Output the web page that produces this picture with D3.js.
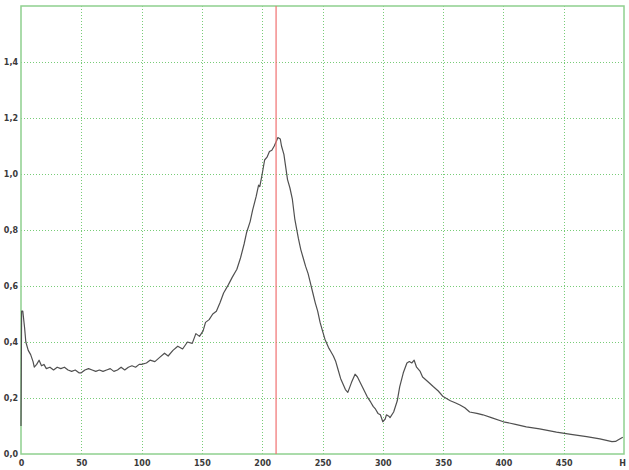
<!DOCTYPE html>
<html>
<head>
<meta charset="utf-8">
<script src="https://cdn.jsdelivr.net/npm/d3@7/dist/d3.min.js"></script>
<style>
  html, body { margin: 0; padding: 0; background: #fff; }
  svg { display: block; }
  .tick text { font-family: "DejaVu Sans", sans-serif; font-size: 8px; font-weight: bold; fill: #3a3a3a; }
</style>
</head>
<body>
<svg id="chart" width="629" height="470"></svg>
<script>
// Spectrum samples: frequency (x) and amplitude (y)
const freq = [0, 0.5, 1.5, 3, 4, 6, 8, 10, 11, 13, 15, 17, 19, 21, 24, 27, 30, 33, 36, 39, 42, 45, 48, 50,
  53, 56, 59, 62, 65, 68, 71, 74, 77, 80, 83, 86, 89, 92, 95, 98, 100, 104, 107, 111, 115, 119, 122, 126,
  130, 134, 138, 142, 145, 148, 151, 153, 156, 159, 162, 165, 168, 172, 175, 179, 182, 185, 187, 190, 192,
  195, 197, 198, 200, 202, 204, 206, 208, 210, 212, 213, 215, 216, 218, 219, 221, 223, 225, 227, 230, 232,
  234, 236, 238, 240, 242, 244, 246, 248, 250, 252, 255, 257, 259, 261, 263, 265, 267, 269, 271, 274, 277,
  279, 283, 287, 290, 292, 294, 296, 298, 300, 302, 303, 305, 306, 309, 312, 314, 317, 320, 322, 324, 326,
  328, 331, 333, 337, 342, 346, 350, 356, 360, 364, 368, 372, 378, 383, 390, 400, 410, 419, 430, 444, 456,
  469, 480, 490, 493, 495, 499];
const amp = [0.10, 0.51, 0.51, 0.45, 0.40, 0.37, 0.355, 0.33, 0.31, 0.32, 0.335, 0.315, 0.32, 0.305, 0.31,
  0.30, 0.31, 0.305, 0.31, 0.30, 0.295, 0.30, 0.29, 0.29, 0.30, 0.305, 0.30, 0.295, 0.30, 0.295, 0.30, 0.305,
  0.295, 0.30, 0.31, 0.30, 0.31, 0.315, 0.31, 0.32, 0.32, 0.325, 0.335, 0.33, 0.345, 0.36, 0.35, 0.37,
  0.385, 0.375, 0.40, 0.395, 0.43, 0.42, 0.44, 0.47, 0.48, 0.50, 0.51, 0.54, 0.575, 0.605, 0.63, 0.66, 0.70,
  0.75, 0.79, 0.83, 0.87, 0.92, 0.96, 0.955, 1.00, 1.05, 1.06, 1.08, 1.085, 1.10, 1.12, 1.13, 1.125, 1.10,
  1.07, 1.04, 0.98, 0.95, 0.91, 0.84, 0.77, 0.73, 0.70, 0.67, 0.645, 0.61, 0.575, 0.54, 0.51, 0.47, 0.44,
  0.41, 0.38, 0.365, 0.35, 0.33, 0.30, 0.27, 0.25, 0.23, 0.22, 0.255, 0.285, 0.275, 0.24, 0.205, 0.185,
  0.17, 0.16, 0.145, 0.14, 0.115, 0.125, 0.14, 0.135, 0.13, 0.15, 0.19, 0.24, 0.29, 0.325, 0.33, 0.325,
  0.335, 0.31, 0.295, 0.275, 0.26, 0.24, 0.225, 0.205, 0.19, 0.183, 0.175, 0.165, 0.15, 0.145, 0.14,
  0.13, 0.115, 0.106, 0.097, 0.09, 0.078, 0.07, 0.062, 0.054, 0.044, 0.045, 0.05, 0.06];

// Axis ticks and labels
const xTicks = [0, 50, 100, 150, 200, 250, 300, 350, 400, 450, 500];
const xTickLabels = ["0", "50", "100", "150", "200", "250", "300", "350", "400", "450", "H"];
const yTicks = [0, 0.2, 0.4, 0.6, 0.8, 1.0, 1.2, 1.4];
const yTickLabels = ["0,0", "0,2", "0,4", "0,6", "0,8", "1,0", "1,2", "1,4"];

// Cursor position
const cursorFreq = [211.5];

const svg = d3.select("#chart");
const plotL = 21, plotR = 624, plotT = 6, plotB = 454;

const x = d3.scaleLinear().domain([0, 500]).range([plotL, plotR]);
const y = d3.scaleLinear().domain([0, 1.6]).range([plotB, plotT]);

// Dotted grid
const gridColor = "#78cc78";
const gx = svg.append("g").attr("transform", `translate(0,${plotB})`)
  .call(d3.axisBottom(x).tickValues(xTicks.slice(1, -1)).tickSize(-(plotB - plotT)).tickFormat(""));
const gy = svg.append("g").attr("transform", `translate(${plotL},0)`)
  .call(d3.axisLeft(y).tickValues(yTicks.slice(1)).tickSize(-(plotR - plotL)).tickFormat(""));
[gx, gy].forEach(g => {
  g.select(".domain").remove();
  g.selectAll("line").attr("stroke", gridColor).attr("stroke-width", 1)
    .attr("stroke-dasharray", "1,2").attr("shape-rendering", "crispEdges");
});

// Tick labels
const ax = svg.append("g").attr("transform", `translate(0,${plotB})`)
  .call(d3.axisBottom(x).tickValues(xTicks).tickSize(0).tickPadding(6)
    .tickFormat((d, i) => xTickLabels[i]));
ax.select(".domain").remove();
ax.selectAll(".tick text").filter((d, i) => i === xTicks.length - 1).attr("dx", "-2");

const ay = svg.append("g").attr("transform", `translate(${plotL},0)`)
  .call(d3.axisLeft(y).tickValues(yTicks).tickSize(0).tickPadding(3)
    .tickFormat((d, i) => yTickLabels[i]));
ay.select(".domain").remove();

// Plot frame
svg.append("rect")
  .attr("x", plotL).attr("y", plotT)
  .attr("width", plotR - plotL).attr("height", plotB - plotT)
  .attr("fill", "none").attr("stroke", "#8fd08f").attr("stroke-width", 1.5);

// Spectrum trace
const pts = freq.map((f, i) => [f, amp[i]]);
svg.append("path")
  .datum(pts)
  .attr("fill", "none")
  .attr("stroke", "#505050")
  .attr("stroke-width", 1.2)
  .attr("stroke-linejoin", "round")
  .attr("d", d3.line().x(d => x(d[0])).y(d => y(d[1])));

// Cursor line
svg.selectAll(".cursor").data(cursorFreq).enter().append("line")
  .attr("class", "cursor")
  .attr("x1", d => x(d)).attr("x2", d => x(d))
  .attr("y1", plotT).attr("y2", plotB)
  .attr("stroke", "#f07070").attr("stroke-width", 1.2);
</script>
</body>
</html>
